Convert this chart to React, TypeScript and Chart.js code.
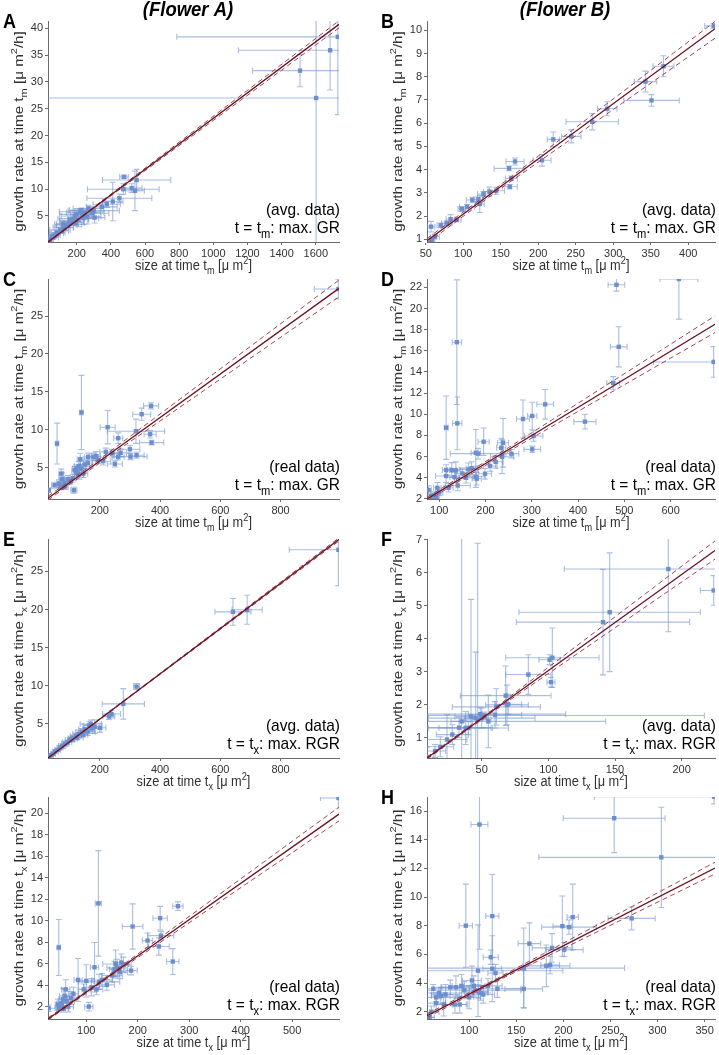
import React, { useEffect, useRef } from "react";
import { Chart, registerables } from "chart.js";
Chart.register(...registerables);

const FONT = '"Liberation Sans", Arial, Helvetica, sans-serif';

// ---------------- DATA ----------------
// each point: [x, y, xError, yError]
const A_pts = [
  [1729, 38.4, 943, 14.5], [1684, 35.9, 537, 7.4], [1508, 32.1, 279, 3.0], [1602, 27.0, 1700, 30],
  [551, 11.7, 200, 2.0], [477, 12.3, 25, 0.3], [473, 10.0, 210, 1.0], [522, 10.2, 60, 0.8], [541, 9.7, 55, 3.7],
  [450, 8.3, 190, 0.8], [411, 7.7, 60, 3.6], [376, 7.2, 80, 0.6], [347, 6.7, 90, 0.8], [300, 6.0, 150, 0.5],
  [288, 5.5, 100, 1.0], [269, 6.4, 90, 0.6], [262, 4.9, 80, 1.4], [250, 5.6, 110, 0.5], [239, 4.6, 90, 1.2],
  [228, 6.1, 70, 0.4], [219, 5.8, 120, 0.6], [210, 4.3, 60, 1.3], [200, 5.3, 100, 0.8], [190, 5.0, 80, 0.6],
  [180, 4.5, 90, 0.8], [171, 3.9, 70, 0.6], [160, 4.2, 60, 0.5], [150, 3.4, 80, 0.5], [141, 3.3, 60, 0.6],
  [130, 2.8, 50, 0.4], [122, 2.9, 60, 0.6], [112, 2.2, 40, 0.3], [102, 2.4, 60, 0.5], [92, 1.9, 40, 0.4],
  [83, 1.8, 40, 0.5], [73, 1.4, 30, 0.3], [63, 1.0, 30, 0.3], [55, 1.2, 25, 0.3], [44, 0.5, 20, 0.3],
  [305, 4.7, 60, 1.0], [233, 5.2, 70, 0.7], [195, 3.7, 50, 0.5], [120, 3.6, 40, 0.5],
];
const B_pts = [
  [434, 10.19, 12, 0.1], [367, 8.45, 14, 0.45], [343, 7.79, 15, 0.45], [351, 6.98, 37, 0.25],
  [292, 6.62, 13, 0.3], [272, 6.06, 35, 0.35], [244, 5.43, 13, 0.28], [220, 5.3, 8, 0.32],
  [205, 4.4, 12, 0.25], [169, 4.35, 12, 0.15], [161, 4.05, 20, 0.1], [164, 3.62, 8, 0.1],
  [162, 3.26, 10, 0.1], [144, 3.09, 11, 0.15], [127, 2.95, 8, 0.1], [120, 2.72, 6, 0.1],
  [122, 2.52, 6, 0.37], [112, 2.69, 8, 0.12], [105, 2.4, 10, 0.1], [91, 1.83, 6, 0.08],
  [83, 1.86, 6, 0.2], [78, 1.69, 7, 0.1], [57, 1.54, 5, 0.23], [62, 1.11, 6, 0.1],
  [58, 0.97, 4, 0.08], [98, 2.3, 5, 0.1], [70, 1.6, 5, 0.1], [135, 3.05, 8, 0.2],
];
const C_pts = [
  [992, 28.57, 80, 1.3], [370, 13.15, 25, 0.4], [339, 12.05, 30, 0.8], [139, 12.27, 5, 4.9],
  [226, 10.33, 25, 2.2], [261, 8.88, 15, 0.7], [58, 8.17, 4, 2.7], [320, 9.8, 95, 1.6],
  [367, 9.4, 20, 0.5], [372, 8.3, 40, 0.3], [300, 7.42, 33, 0.5], [302, 6.45, 55, 0.4],
  [269, 6.94, 20, 0.5], [322, 6.63, 25, 0.4], [250, 5.48, 25, 0.4], [261, 6.4, 20, 0.4],
  [220, 7.07, 20, 0.5], [211, 5.84, 25, 0.5], [187, 6.5, 15, 0.6], [180, 6.41, 15, 0.5],
  [161, 6.41, 12, 0.5], [150, 5.4, 15, 0.5], [139, 4.87, 15, 0.6], [131, 4.07, 15, 0.6],
  [122, 4.87, 12, 0.5], [117, 4.65, 10, 0.5], [114, 2.0, 10, 0.4], [94, 3.46, 12, 0.5],
  [83, 3.0, 10, 0.5], [72, 4.2, 8, 0.6], [75, 3.5, 10, 0.8], [50, 2.67, 10, 0.4],
  [31, 2.0, 5, 0.3], [65, 2.9, 8, 0.5], [85, 2.5, 10, 0.4], [110, 3.6, 12, 0.5],
  [130, 5.2, 15, 0.6], [145, 4.2, 15, 0.5], [135, 6.1, 10, 0.8], [160, 5.6, 15, 0.5],
  [125, 4.3, 10, 0.4], [100, 3.2, 10, 0.4], [70, 2.4, 8, 0.3], [240, 6.9, 20, 0.5], [195, 6.0, 20, 0.5],
];
const D_pts = [
  [618, 22.8, 41, 3.8], [483, 22.25, 18, 0.6], [488, 16.38, 18, 1.9], [693, 14.95, 130, 1.45],
  [476, 12.96, 14, 0.6], [415, 9.3, 24, 0.7], [329, 10.94, 18, 1.4], [301, 9.84, 10, 1.3],
  [281, 9.55, 14, 1.8], [304, 7.94, 20, 0.5], [301, 6.68, 18, 0.3], [138, 16.82, 10, 5.9],
  [139, 9.14, 10, 2.5], [115, 8.73, 4, 3.0], [196, 7.4, 12, 1.3], [179, 6.36, 10, 2.2],
  [238, 7.3, 12, 2.3], [234, 6.83, 10, 0.9], [236, 5.98, 25, 1.6], [256, 6.27, 16, 0.4],
  [184, 6.27, 60, 0.5], [199, 4.37, 14, 0.5], [179, 4.08, 20, 1.0], [181, 3.9, 10, 0.6],
  [158, 3.99, 15, 0.5], [163, 4.78, 20, 0.6], [140, 3.26, 27, 0.5], [136, 4.69, 10, 0.8],
  [127, 4.72, 10, 0.7], [115, 4.15, 23, 0.6], [120, 3.04, 10, 0.4], [133, 4.05, 10, 0.5],
  [115, 4.72, 8, 0.5], [96, 3.04, 8, 0.5], [77, 2.82, 6, 0.4], [89, 2.35, 8, 0.3],
  [94, 2.05, 6, 0.3], [84, 2.2, 6, 0.3], [222, 5.5, 15, 0.6], [210, 5.1, 15, 0.5],
  [150, 4.4, 15, 0.5], [170, 4.9, 12, 0.6], [100, 2.6, 8, 0.3],
];
const E_pts = [
  [992, 27.84, 163, 4.7], [642, 19.7, 60, 1.75], [689, 19.97, 50, 1.9], [322, 9.9, 10, 0.4],
  [278, 7.63, 70, 2.0], [239, 6.3, 30, 0.5], [230, 6.0, 20, 0.4], [183, 4.65, 25, 0.9],
  [175, 4.4, 30, 0.6], [165, 4.8, 20, 0.5], [160, 4.0, 25, 0.5], [150, 4.3, 20, 0.6],
  [140, 3.9, 20, 0.5], [130, 3.7, 20, 0.5], [120, 3.4, 18, 0.4], [110, 3.1, 15, 0.4],
  [100, 2.9, 15, 0.3], [92, 2.6, 15, 0.3], [85, 2.4, 12, 0.3], [75, 2.1, 12, 0.3],
  [68, 1.9, 10, 0.3], [60, 1.6, 10, 0.2], [52, 1.4, 10, 0.2], [45, 1.1, 8, 0.2],
  [38, 0.9, 8, 0.2], [32, 0.7, 5, 0.2], [170, 5.0, 35, 0.5], [145, 3.6, 15, 0.3],
  [125, 3.2, 20, 0.3], [105, 3.0, 10, 0.3], [200, 4.5, 20, 0.6],
];
const F_pts = [
  [224, 5.47, 10, 0.45], [190, 6.12, 78, 1.9], [146, 4.81, 68, 1.8], [141, 4.51, 65, 1.6],
  [103, 3.43, 35, 0.9], [101, 3.37, 8, 0.15], [102, 2.69, 3, 0.15], [85, 2.92, 17, 0.6],
  [68, 2.28, 34, 0.9], [69, 2.0, 16, 0.6], [70, 2.02, 10, 0.3], [61, 1.94, 33, 0.55],
  [49, 1.72, 64, 0.2], [52, 1.68, 165, 0.1], [47, 1.55, 10, 5.35], [35, 1.5, 8, 5.8],
  [42, 1.65, 12, 3.55], [45.5, 1.6, 8, 2.0], [33, 1.31, 24, 0.3], [24, 0.95, 15, 0.75],
  [19, 0.73, 10, 0.3], [9, 0.42, 5, 0.3], [38, 1.3, 20, 0.5], [55, 1.5, 88, 0.8],
  [60, 1.7, 20, 0.4], [28, 1.1, 12, 0.3], [50, 1.6, 40, 0.3], [40, 1.3, 30, 0.2], [15, 0.6, 8, 0.2],
];
const G_pts = [
  [590, 21.4, 35, 1.0], [123.5, 11.6, 6, 4.9], [278, 11.34, 10, 0.4], [243.5, 10.22, 14, 1.1],
  [190, 9.45, 20, 2.1], [46.5, 7.5, 3, 2.6], [219, 8.14, 10, 0.7], [245, 8.6, 25, 0.4],
  [241, 7.59, 20, 0.8], [268, 6.19, 12, 1.2], [187, 5.35, 12, 0.4], [157, 5.97, 25, 1.3],
  [160, 5.6, 20, 0.8], [165, 5.2, 15, 0.6], [168, 6.1, 15, 0.8], [116, 5.66, 8, 2.3],
  [105, 2.0, 8, 0.4], [84, 4.48, 8, 2.0], [131, 4.48, 20, 0.6], [140, 4.02, 15, 0.5],
  [27, 1.85, 15, 0.3], [120, 3.6, 12, 0.5], [100, 4.4, 15, 1.5], [110, 3.8, 15, 0.8],
  [125, 4.3, 40, 0.7], [95, 3.6, 10, 0.5], [75, 3.2, 10, 0.6], [60, 3.6, 8, 0.9],
  [58, 3.0, 10, 0.7], [55, 2.7, 8, 1.0], [52, 2.3, 10, 0.5], [50, 2.1, 6, 0.4],
  [47, 1.9, 8, 0.4], [45, 2.2, 5, 0.5], [62, 2.5, 15, 0.5], [65, 2.0, 10, 0.5],
  [70, 2.8, 8, 0.6], [56, 1.8, 10, 0.3], [150, 4.9, 20, 0.6], [172, 5.9, 15, 0.7], [155, 5.5, 10, 0.7],
];
const H_pts = [
  [360, 17.0, 127, 0.5], [254, 15.5, 54, 2.4], [304, 12.77, 130, 3.5], [272.5, 8.51, 25, 0.8],
  [210, 8.6, 6, 2.3], [206, 7.9, 29, 0.5], [199, 7.97, 10, 2.1], [201, 6.33, 20, 0.5],
  [188, 6.45, 21, 1.0], [164, 6.75, 12, 1.45], [182, 5.2, 25, 1.45], [186, 5.25, 10, 0.6],
  [158, 5.04, 107, 2.8], [158, 3.59, 20, 1.3], [111, 15.06, 9, 8.7], [96.5, 8.0, 7, 2.9],
  [124.6, 8.67, 7, 2.9], [123, 5.8, 8, 0.5], [124.6, 5.0, 10, 2.3], [128, 4.7, 8, 0.6],
  [109.5, 4.86, 90, 3.2], [103, 4.18, 10, 1.0], [92, 3.8, 10, 0.8], [95, 3.5, 60, 0.6],
  [86, 3.7, 15, 0.8], [80, 3.7, 10, 0.5], [75, 3.2, 15, 0.7], [70, 3.1, 10, 0.6],
  [65, 2.6, 10, 0.5], [60, 2.0, 8, 0.4], [58, 1.6, 5, 0.3], [73, 2.5, 10, 0.8],
  [85, 2.5, 12, 0.6], [90, 2.5, 8, 0.6], [100, 3.0, 12, 0.8], [105, 3.8, 12, 0.7],
  [110, 3.4, 10, 0.5], [115, 3.2, 12, 0.6], [120, 3.8, 15, 0.5], [112, 3.3, 8, 0.5],
  [68, 3.3, 30, 0.4], [62, 3.6, 45, 0.3], [65, 3.0, 40, 0.3], [130, 3.6, 25, 0.6],
];

// regression line (solid) and confidence band (dashed): x positions and y values
const A_fitX = [32, 300, 1736], A_fitY = [0.15, 6.53, 40.74], A_hiY = [0.3, 6.65, 41.4], A_loY = [0.0, 6.41, 40.08];
const B_fitX = [51.6, 150, 435.7], B_fitY = [0.93, 3.27, 10.07], B_hiY = [1.03, 3.35, 10.38], B_loY = [0.83, 3.19, 9.66];
const C_fitX = [28, 200, 994], C_fitY = [0.95, 5.88, 28.66], C_hiY = [1.2, 6.12, 29.76], C_loY = [0.7, 5.64, 27.55];
const D_fitX = [73.6, 250, 696], D_fitY = [1.98, 6.67, 18.52], D_hiY = [2.15, 6.85, 19.31], D_loY = [1.81, 6.49, 17.73];
const E_fitX = [28, 300, 994], E_fitY = [0.54, 8.61, 29.2], E_hiY = [0.6, 8.66, 29.4], E_loY = [0.48, 8.56, 29.0];
const F_fitX = [9, 60, 225], F_fitY = [0.39, 1.875, 6.68], F_hiY = [0.42, 1.91, 6.97], F_loY = [0.36, 1.84, 6.42];
const G_fitX = [25.6, 150, 591], G_fitY = [0.85, 5.04, 19.9], G_hiY = [0.95, 5.15, 20.55], G_loY = [0.75, 4.93, 19.27];
const H_fitX = [55.3, 130, 361], H_fitY = [1.72, 4.24, 12.02], H_hiY = [1.85, 4.33, 12.43], H_loY = [1.59, 4.15, 11.61];

// axis ranges and tick labels
const A_xRange = [32, 1736], A_yRange = [0.15, 41.36];
const B_xRange = [51.6, 435.7], B_yRange = [0.88, 10.4];
const C_xRange = [28, 994], C_yRange = [0.85, 29.9];
const D_xRange = [73.6, 696], D_yRange = [1.98, 22.8];
const E_xRange = [28, 994], E_yRange = [0.54, 29.25];
const F_xRange = [9, 225], F_yRange = [0.39, 7.03];
const G_xRange = [25.6, 591], G_yRange = [0.85, 21.49];
const H_xRange = [55.3, 361], H_yRange = [1.49, 16.98];

const A_xTicks = [200, 400, 600, 800, 1000, 1200, 1400, 1600], A_yTicks = [5, 10, 15, 20, 25, 30, 35, 40];
const B_xTicks = [50, 100, 150, 200, 250, 300, 350, 400], B_yTicks = [1, 2, 3, 4, 5, 6, 7, 8, 9, 10];
const C_xTicks = [200, 400, 600, 800], C_yTicks = [5, 10, 15, 20, 25];
const D_xTicks = [100, 200, 300, 400, 500, 600], D_yTicks = [2, 4, 6, 8, 10, 12, 14, 16, 18, 20, 22];
const E_xTicks = [200, 400, 600, 800], E_yTicks = [5, 10, 15, 20, 25];
const F_xTicks = [50, 100, 150, 200], F_yTicks = [1, 2, 3, 4, 5, 6, 7];
const G_xTicks = [100, 200, 300, 400, 500], G_yTicks = [2, 4, 6, 8, 10, 12, 14, 16, 18, 20];
const H_xTicks = [100, 150, 200, 250, 300, 350], H_yTicks = [2, 4, 6, 8, 10, 12, 14, 16];

// ---------------- LAYOUT / STYLE ----------------
const PAGE_W = 719, PAGE_H = 1055;
const COLS = [{ x: 0, w: 359, left: 48, right: 339 }, { x: 360, w: 359, left: 427, right: 717 }];
const ROWS = [{ top: 21, bottom: 242 }, { top: 279, bottom: 499 }, { top: 539, bottom: 758 }, { top: 797, bottom: 1019 }];
const TOP_SPACE = 21, BOTTOM_SPACE = 36, YW = 30, XH = 16;

const PT_COLOR = "rgb(108,142,206)";
const ERR_COLOR = "rgba(112,147,207,0.6)";
const SOLID_COLOR = "#6a1220";
const DASH_COLOR = "#a3434f";

type Seg = { t: string; s?: "b" | "p" };

type PanelDef = {
  letter: string; col: number; row: number; heading?: string;
  pts: number[][]; fitX: number[]; fitY: number[]; hiY: number[]; loY: number[];
  xr: number[]; yr: number[]; xt: number[]; yt: number[];
  sub: string; note1: string; note2: string;
};

const PANELS: PanelDef[] = [
  { letter: "A", col: 0, row: 0, heading: "(Flower A)", pts: A_pts, fitX: A_fitX, fitY: A_fitY, hiY: A_hiY, loY: A_loY, xr: A_xRange, yr: A_yRange, xt: A_xTicks, yt: A_yTicks, sub: "m", note1: "(avg. data)", note2: "max. GR" },
  { letter: "B", col: 1, row: 0, heading: "(Flower B)", pts: B_pts, fitX: B_fitX, fitY: B_fitY, hiY: B_hiY, loY: B_loY, xr: B_xRange, yr: B_yRange, xt: B_xTicks, yt: B_yTicks, sub: "m", note1: "(avg. data)", note2: "max. GR" },
  { letter: "C", col: 0, row: 1, pts: C_pts, fitX: C_fitX, fitY: C_fitY, hiY: C_hiY, loY: C_loY, xr: C_xRange, yr: C_yRange, xt: C_xTicks, yt: C_yTicks, sub: "m", note1: "(real data)", note2: "max. GR" },
  { letter: "D", col: 1, row: 1, pts: D_pts, fitX: D_fitX, fitY: D_fitY, hiY: D_hiY, loY: D_loY, xr: D_xRange, yr: D_yRange, xt: D_xTicks, yt: D_yTicks, sub: "m", note1: "(real data)", note2: "max. GR" },
  { letter: "E", col: 0, row: 2, pts: E_pts, fitX: E_fitX, fitY: E_fitY, hiY: E_hiY, loY: E_loY, xr: E_xRange, yr: E_yRange, xt: E_xTicks, yt: E_yTicks, sub: "x", note1: "(avg. data)", note2: "max. RGR" },
  { letter: "F", col: 1, row: 2, pts: F_pts, fitX: F_fitX, fitY: F_fitY, hiY: F_hiY, loY: F_loY, xr: F_xRange, yr: F_yRange, xt: F_xTicks, yt: F_yTicks, sub: "x", note1: "(avg. data)", note2: "max. RGR" },
  { letter: "G", col: 0, row: 3, pts: G_pts, fitX: G_fitX, fitY: G_fitY, hiY: G_hiY, loY: G_loY, xr: G_xRange, yr: G_yRange, xt: G_xTicks, yt: G_yTicks, sub: "x", note1: "(real data)", note2: "max. RGR" },
  { letter: "H", col: 1, row: 3, pts: H_pts, fitX: H_fitX, fitY: H_fitY, hiY: H_hiY, loY: H_loY, xr: H_xRange, yr: H_yRange, xt: H_xTicks, yt: H_yTicks, sub: "x", note1: "(real data)", note2: "max. RGR" },
];

function fontFor(seg: Seg, size: number, style: string) {
  const s = seg.s ? size * 0.72 : size;
  return `${style} ${s}px ${FONT}`.trim();
}

function drawRich(ctx: CanvasRenderingContext2D, segs: Seg[], x: number, y: number, size: number,
  align: "left" | "center" | "right", sx = 1, sy = 1, style = "") {
  ctx.save();
  ctx.translate(x, y);
  ctx.scale(sx, sy);
  ctx.textAlign = "left";
  ctx.textBaseline = "alphabetic";
  const widths = segs.map((seg) => { ctx.font = fontFor(seg, size, style); return ctx.measureText(seg.t).width; });
  const total = widths.reduce((a, b) => a + b, 0);
  let cx = align === "center" ? -total / 2 : align === "right" ? -total : 0;
  segs.forEach((seg, i) => {
    ctx.font = fontFor(seg, size, style);
    const dy = seg.s === "b" ? size * 0.3 : seg.s === "p" ? -size * 0.45 : 0;
    ctx.fillText(seg.t, cx, dy);
    cx += widths[i];
  });
  ctx.restore();
}

function errorBarPlugin(pts: number[][]) {
  return {
    id: "errbars",
    beforeDatasetsDraw(chart: any) {
      const ctx: CanvasRenderingContext2D = chart.ctx;
      const a = chart.chartArea;
      const xs = chart.scales.x, ys = chart.scales.y;
      const cap = 3;
      ctx.save();
      ctx.beginPath();
      ctx.rect(a.left, a.top, a.right - a.left, a.bottom - a.top);
      ctx.clip();
      ctx.strokeStyle = ERR_COLOR;
      ctx.lineWidth = 1.1;
      for (const [x, y, xe, ye] of pts) {
        const px = xs.getPixelForValue(x), py = ys.getPixelForValue(y);
        const x1 = xs.getPixelForValue(x - xe), x2 = xs.getPixelForValue(x + xe);
        const y1 = ys.getPixelForValue(y - ye), y2 = ys.getPixelForValue(y + ye);
        ctx.beginPath();
        ctx.moveTo(x1, py); ctx.lineTo(x2, py);
        ctx.moveTo(x1, py - cap); ctx.lineTo(x1, py + cap);
        ctx.moveTo(x2, py - cap); ctx.lineTo(x2, py + cap);
        ctx.moveTo(px, y1); ctx.lineTo(px, y2);
        ctx.moveTo(px - cap, y1); ctx.lineTo(px + cap, y1);
        ctx.moveTo(px - cap, y2); ctx.lineTo(px + cap, y2);
        ctx.stroke();
      }
      ctx.restore();
    },
  };
}

function textPlugin(p: PanelDef, colX: number) {
  return {
    id: "texts",
    afterDraw(chart: any) {
      const ctx: CanvasRenderingContext2D = chart.ctx;
      const a = chart.chartArea;
      ctx.save();
      // x title
      ctx.fillStyle = "#303030";
      drawRich(ctx, [{ t: "size at time t" }, { t: p.sub, s: "b" }, { t: " [μ m" }, { t: "2", s: "p" }, { t: "]" }],
        (a.left + a.right) / 2, a.bottom + 28, 12.8, "center", 1, 1.1);
      // y title
      ctx.save();
      ctx.translate(a.left - 25, (a.top + a.bottom) / 2);
      ctx.rotate(-Math.PI / 2);
      drawRich(ctx, [{ t: "growth rate at time t" }, { t: p.sub, s: "b" }, { t: " [μ m" }, { t: "2", s: "p" }, { t: "/h]" }],
        0, 0, 13, "center", 1.17, 1);
      ctx.restore();
      // notes
      ctx.fillStyle = "#000";
      drawRich(ctx, [{ t: p.note1 }], a.right + 1, a.bottom - 27, 15.5, "right", 1, 1.08);
      drawRich(ctx, [{ t: "t = t" }, { t: p.sub, s: "b" }, { t: ": " + p.note2 }], a.right + 1, a.bottom - 9, 15.5, "right", 1, 1.08);
      // panel letter
      drawRich(ctx, [{ t: p.letter }], (p.col === 0 ? 3 : 381) - colX, a.top + 7.3, 18, "left", 1, 1.1, "bold");
      // heading
      if (p.heading) {
        drawRich(ctx, [{ t: p.heading }], (p.col === 0 ? 188 : 565) - colX, 15.5, 18.5, "center", 1, 1.05, "italic bold");
      }
      ctx.restore();
    },
  };
}

function axis(min: number, max: number, ticks: number[], isX: boolean) {
  return {
    type: "linear",
    min, max,
    grid: { display: true, drawOnChartArea: false, drawTicks: true, tickLength: 3, color: "#6a6a6a", lineWidth: 1 },
    border: { display: true, color: "#6a6a6a", width: 1 },
    ticks: {
      color: "#333",
      font: { family: FONT, size: 11 },
      padding: 2,
      autoSkip: false,
      maxRotation: 0,
      minRotation: 0,
      callback: (v: any) => String(v),
    },
    afterBuildTicks: (s: any) => { s.ticks = ticks.map((v) => ({ value: v })); },
    afterFit: (s: any) => { if (isX) s.height = XH; else s.width = YW; },
  };
}

function Panel({ p }: { p: PanelDef }) {
  const ref = useRef<HTMLCanvasElement>(null);
  const col = COLS[p.col], row = ROWS[p.row];
  const top = row.top - TOP_SPACE;
  const h = row.bottom - row.top + TOP_SPACE + BOTTOM_SPACE;
  useEffect(() => {
    const canvas = ref.current!;
    const line = (ys: number[]) => p.fitX.map((x, i) => ({ x, y: ys[i] }));
    const chart = new Chart(canvas, {
      type: "scatter",
      data: {
        datasets: [
          { data: line(p.fitY), showLine: true, borderColor: SOLID_COLOR, borderWidth: 1.3, pointRadius: 0, order: 0 } as any,
          { data: line(p.hiY), showLine: true, borderColor: DASH_COLOR, borderWidth: 1, borderDash: [5, 3.5], pointRadius: 0, order: 0 } as any,
          { data: line(p.loY), showLine: true, borderColor: DASH_COLOR, borderWidth: 1, borderDash: [5, 3.5], pointRadius: 0, order: 0 } as any,
          { data: p.pts.map(([x, y]) => ({ x, y })), pointStyle: "rect", pointRadius: 3.1, backgroundColor: PT_COLOR, borderWidth: 0, order: 1 } as any,
        ],
      },
      options: {
        responsive: false,
        animation: false,
        events: [],
        layout: {
          padding: {
            left: col.left - col.x - YW,
            right: col.x + col.w - col.right,
            top: TOP_SPACE,
            bottom: BOTTOM_SPACE - XH,
          },
        },
        plugins: { legend: { display: false }, tooltip: { enabled: false }, title: { display: false } },
        scales: {
          x: axis(p.xr[0], p.xr[1], p.xt, true) as any,
          y: axis(p.yr[0], p.yr[1], p.yt, false) as any,
        },
      },
      plugins: [errorBarPlugin(p.pts), textPlugin(p, col.x)],
    });
    return () => chart.destroy();
  }, []);
  return (
    <canvas ref={ref} width={col.w} height={h}
      style={{ position: "absolute", left: col.x, top, width: col.w, height: h }} />
  );
}

export default function App() {
  return (
    <div style={{ position: "absolute", left: 0, top: 0, width: PAGE_W, height: PAGE_H, background: "#fff", overflow: "hidden" }}>
      {PANELS.map((p) => <Panel key={p.letter} p={p} />)}
    </div>
  );
}
